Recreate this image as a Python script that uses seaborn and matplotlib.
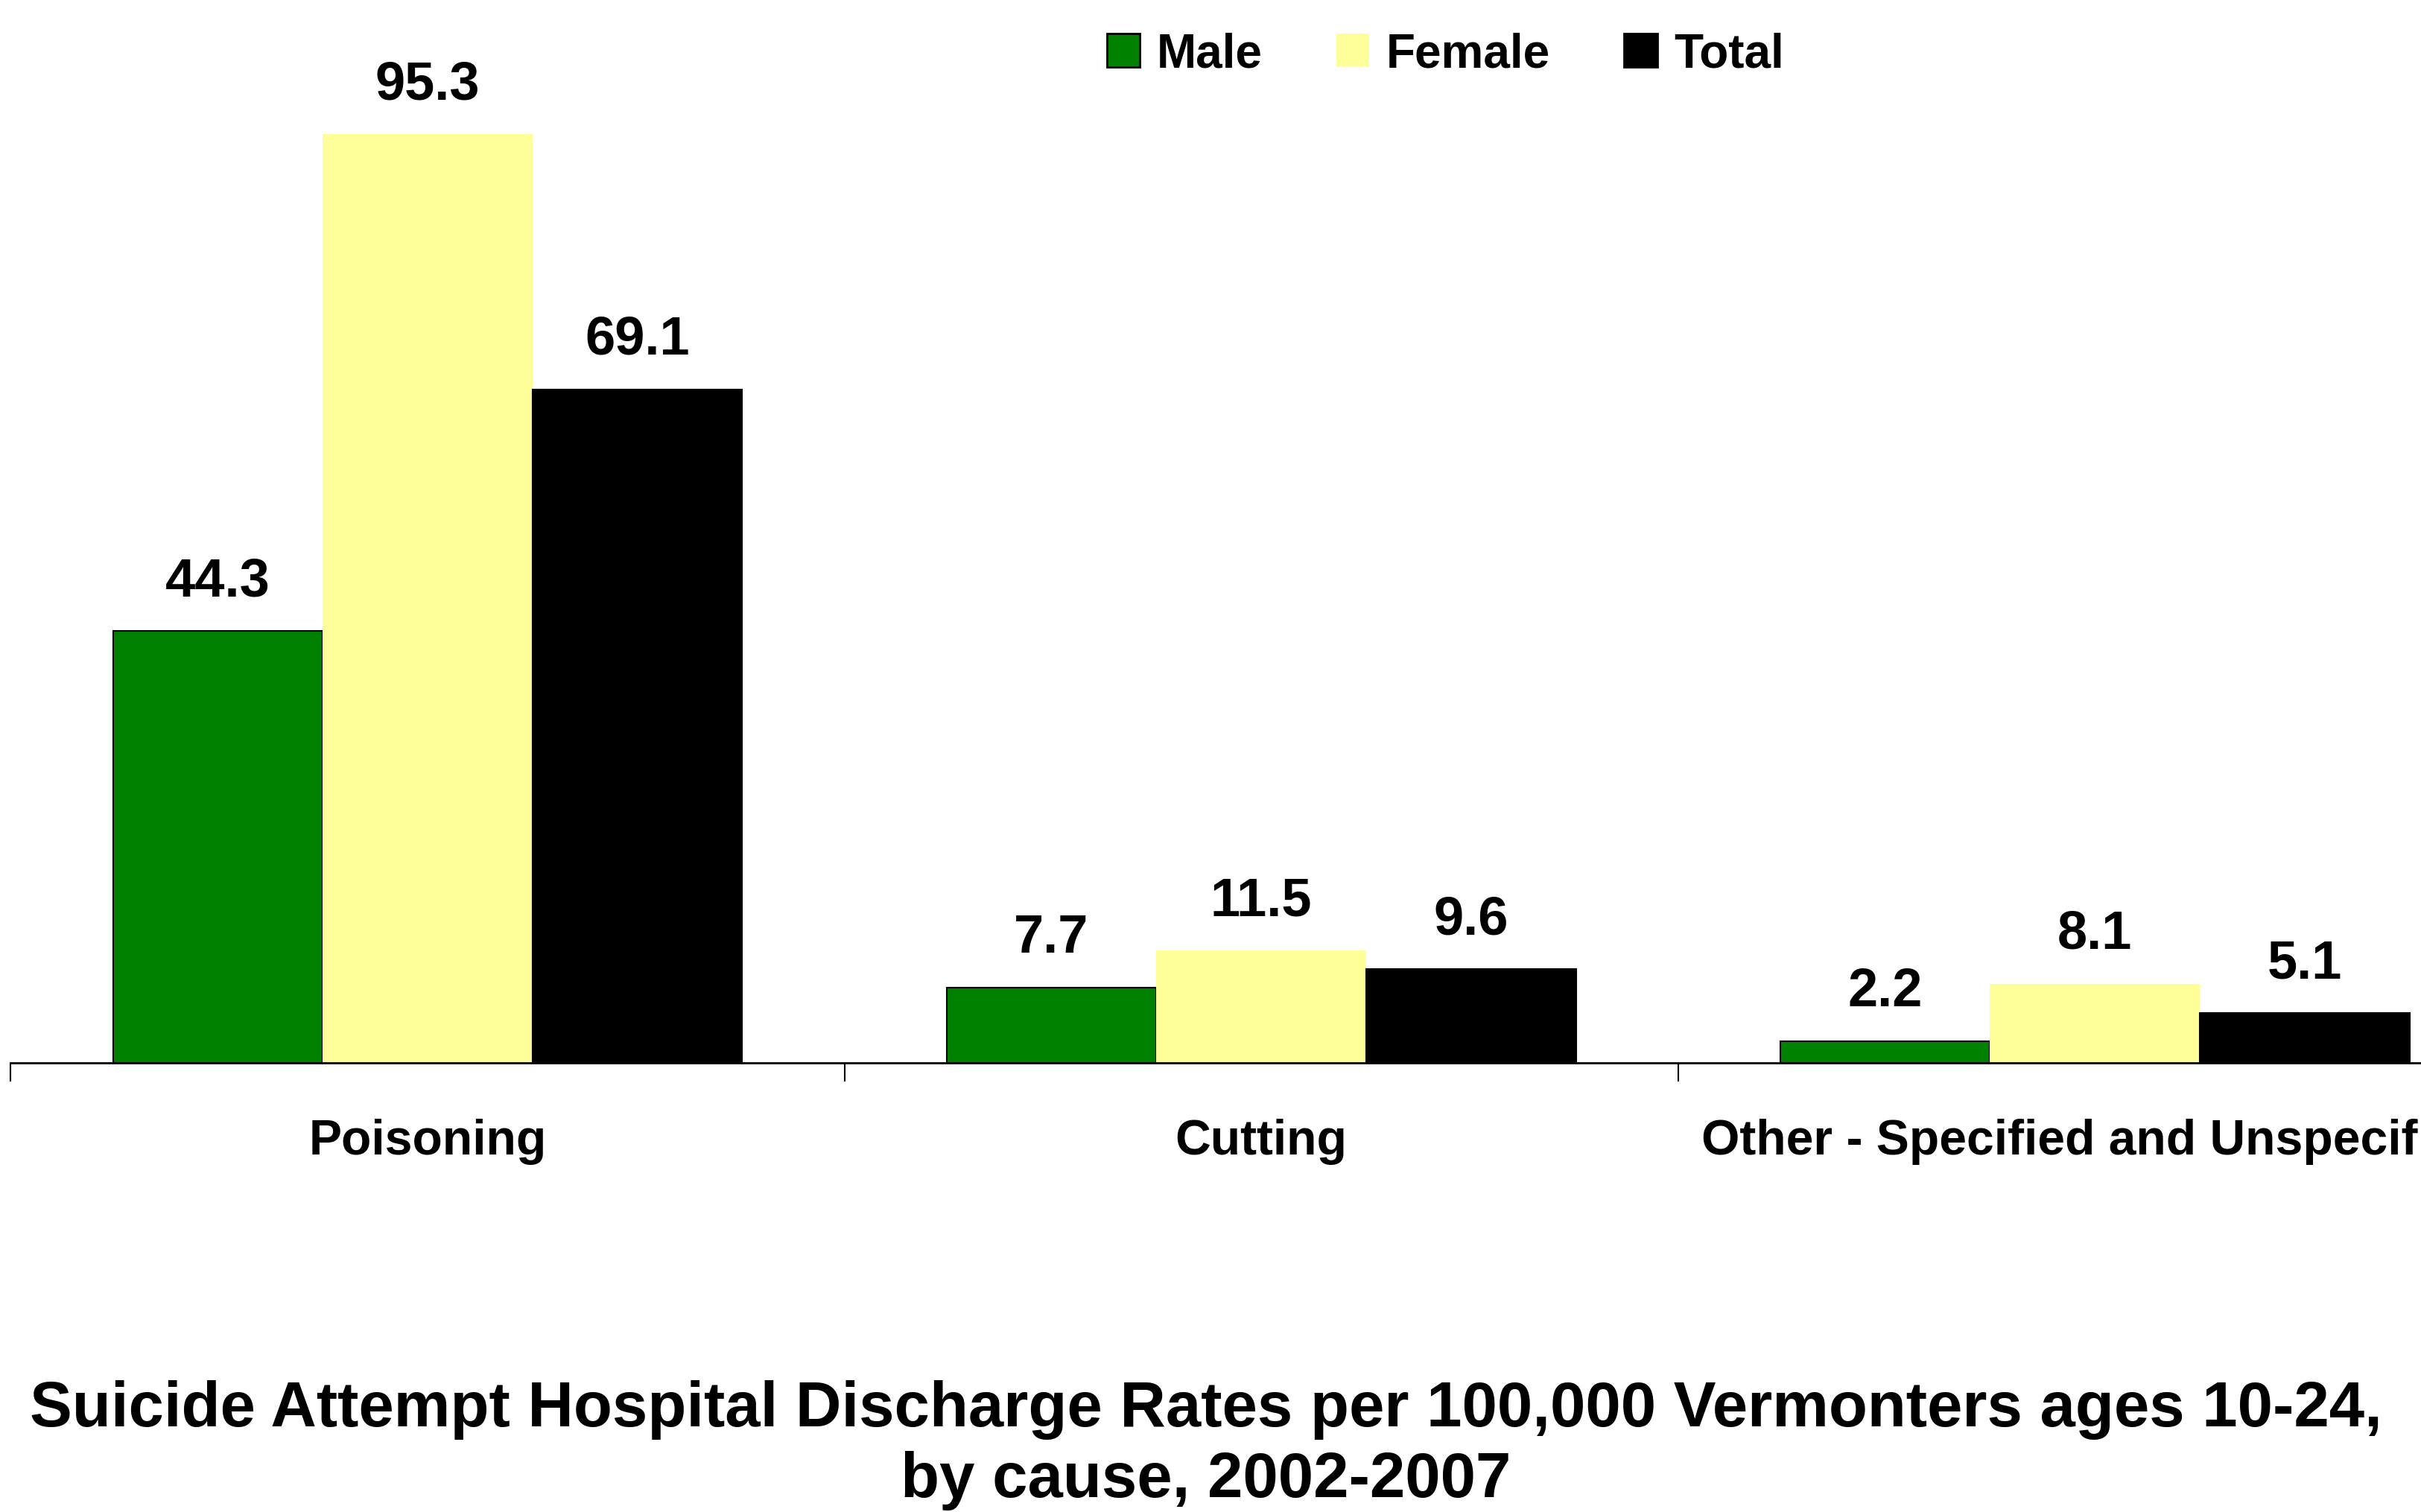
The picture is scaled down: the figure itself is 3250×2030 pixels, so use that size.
import matplotlib
matplotlib.use("Agg")
import matplotlib.pyplot as plt
from matplotlib.patches import Patch
import seaborn as sns
import pandas as pd

causes = ["Poisoning", "Cutting", "Other - Specified and Unspecified"]
series = ["Male", "Female", "Total"]
male = [44.3, 7.7, 2.2]
female = [95.3, 11.5, 8.1]
total = [69.1, 9.6, 5.1]
colors = ["#008000", "#FFFF99", "#000000"]
edges = ["black", "none", "black"]

df = pd.DataFrame({
    "cause": causes * 3,
    "group": [s for s in series for _ in causes],
    "rate": male + female + total,
})

sns.set_theme(style="white")
plt.rcParams["font.family"] = ["Liberation Sans", "DejaVu Sans"]
plt.rcParams["font.weight"] = "bold"
plt.rcParams["text.color"] = "black"
plt.rcParams["xtick.color"] = "black"
plt.rcParams["xtick.labelcolor"] = "black"

fig = plt.figure(figsize=(32.5, 20.3), dpi=100)
# axes run past the right edge of the figure, as in the original
ax = fig.add_axes([0.00446, 0.2972, 1.033, 0.6443])

sns.barplot(data=df, x="cause", y="rate", hue="group", palette=colors,
            width=0.755, saturation=1, legend=False, ax=ax)

for cont, ec in zip(ax.containers, edges):
    for bar in cont:
        bar.set_edgecolor(ec)
        bar.set_linewidth(1.5)
    ax.bar_label(cont, fmt="%.1f", padding=23, fontsize=52,
                 fontweight="bold", color="black")

ax.set_xlim(-0.5, 2.5)
ax.set_ylim(0, 100)
ax.set_yticks([])
ax.set_xlabel("")
ax.set_ylabel("")
for side in ["top", "right", "left"]:
    ax.spines[side].set_visible(False)
ax.spines["bottom"].set_color("black")
ax.spines["bottom"].set_linewidth(2)

ax.set_xticks([-0.5, 0.5, 1.5, 2.5], minor=True)
ax.tick_params(axis="x", which="major", bottom=True, length=0, pad=54,
               labelsize=47.5, labelcolor="black")
ax.tick_params(axis="x", which="minor", bottom=True, length=18, width=1.5,
               color="black", direction="out")

handles = [Patch(facecolor=c, edgecolor=e, linewidth=2, label=s)
           for s, c, e in zip(series, colors, edges)]
fig.legend(handles=handles, loc="center", bbox_to_anchor=(0.597, 0.964),
           ncol=3, frameon=False, fontsize=46, handlelength=0.7,
           handleheight=0.7, handletextpad=0.35, columnspacing=1.55,
           labelcolor="black")

fig.text(0.498, 0.044,
         "Suicide Attempt Hospital Discharge Rates per 100,000 Vermonters ages 10-24,\n"
         "by cause, 2002-2007",
         ha="center", va="center", fontsize=61.3, fontweight="bold",
         linespacing=1.25, color="black")

fig.savefig("out.png", dpi=100)
